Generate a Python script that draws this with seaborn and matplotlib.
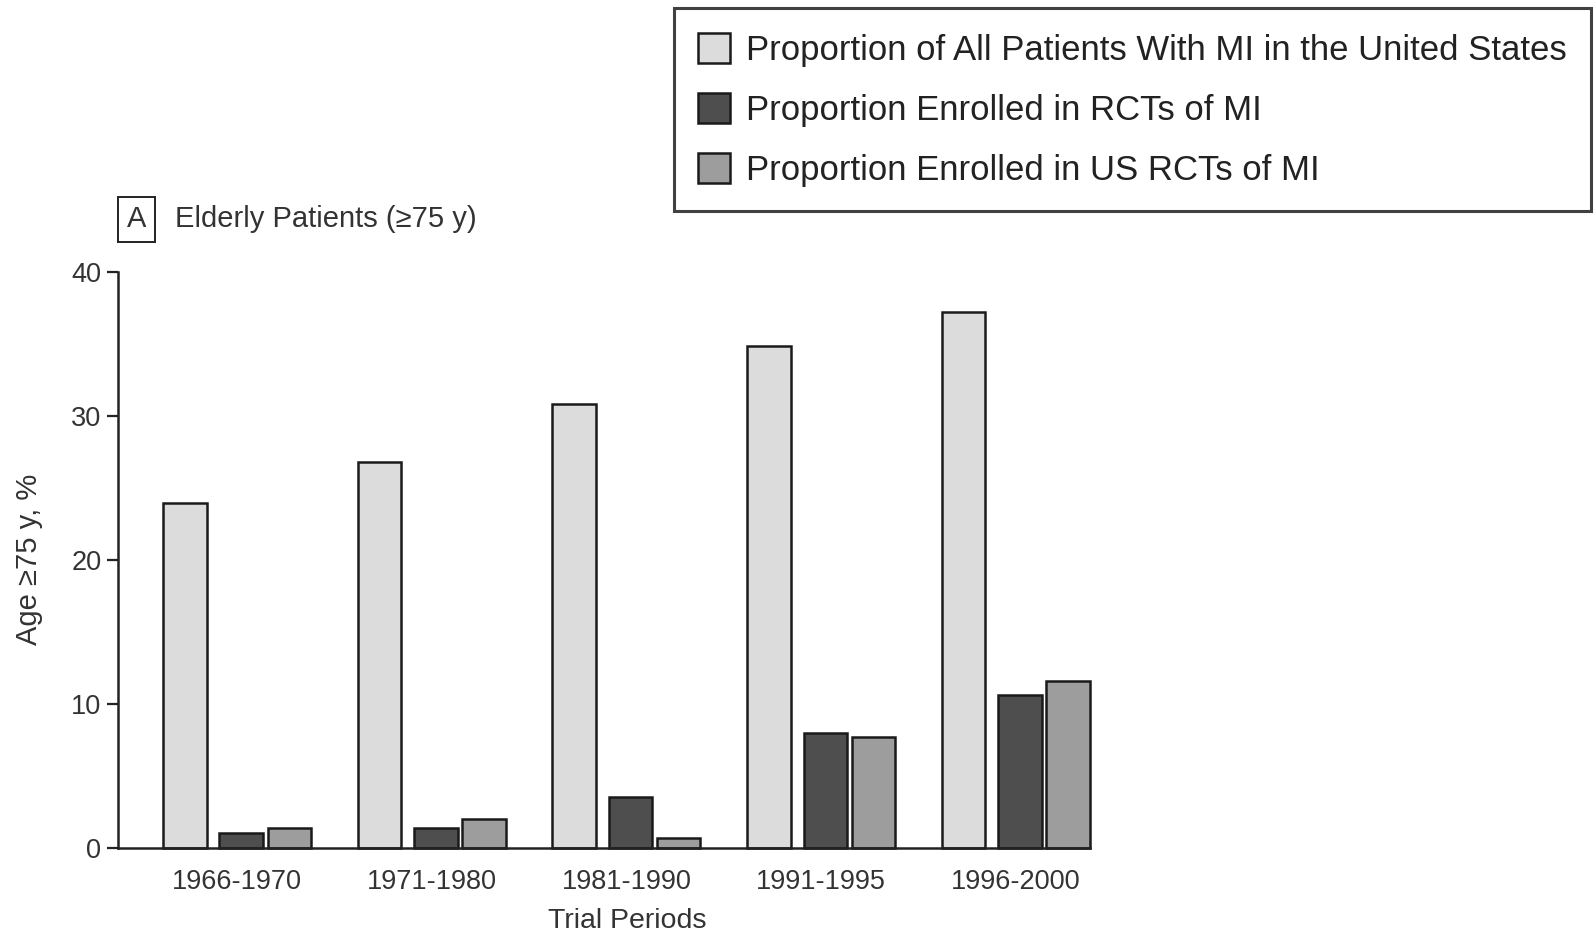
import matplotlib
matplotlib.use("Agg")
import matplotlib.pyplot as plt
from matplotlib.patches import Patch
import seaborn as sns
import pandas as pd

periods = ["1966-1970", "1971-1980", "1981-1990", "1991-1995", "1996-2000"]
series_names = [
    "Proportion of All Patients With MI in the United States",
    "Proportion Enrolled in RCTs of MI",
    "Proportion Enrolled in US RCTs of MI",
]
all_us_mi = [23.9, 26.8, 30.8, 34.8, 37.2]
rct_mi = [1.0, 1.4, 3.5, 8.0, 10.6]
us_rct_mi = [1.4, 2.0, 0.7, 7.7, 11.6]
yticks = [0, 10, 20, 30, 40]
colors = ["#dcdcdc", "#4e4e4e", "#9d9d9d"]

df = pd.DataFrame({
    "period": periods * 3,
    "series": [series_names[0]] * 5 + [series_names[1]] * 5 + [series_names[2]] * 5,
    "value": all_us_mi + rct_mi + us_rct_mi,
})

sns.set_theme(style="white")
plt.rcParams["font.family"] = ["Liberation Sans", "DejaVu Sans"]

fig = plt.figure(figsize=(15.94, 9.33), dpi=100)
ax = fig.add_axes([0.074, 0.0913, 0.6097, 0.6177])

sns.barplot(data=df, x="period", y="value", hue="series", hue_order=series_names,
            palette=colors, width=0.67, saturation=1, edgecolor="#1a1a1a",
            linewidth=1.8, legend=False, ax=ax)

# open up the gap between the national bar and the two trial bars
shifts = [-0.045, 0.021, 0.045]
bars = [p for p in ax.patches if p.get_height() > 0]
for i, p in enumerate(bars):
    p.set_x(p.get_x() + shifts[i // 5])
    p.set_clip_on(False)

ax.set_xlim(-0.612, 4.38)
ax.set_ylim(0, 40)
ax.set_yticks(yticks)
ax.set_yticklabels([str(t) for t in yticks])
for side in ["top", "right"]:
    ax.spines[side].set_visible(False)
for side in ["left", "bottom"]:
    ax.spines[side].set_color("#222222")
    ax.spines[side].set_linewidth(1.8)
ax.tick_params(axis="y", direction="out", length=8, width=1.6, color="#222222",
               labelsize=19.5, labelcolor="#333333", pad=4, left=True)
ax.tick_params(axis="x", length=0, labelsize=19.5, labelcolor="#333333", pad=15)
ax.set_xlabel("Trial Periods", fontsize=20.5, color="#333333")
ax.xaxis.set_label_coords(0.524, -0.104)
ax.set_ylabel("Age ≥75 y, %", fontsize=21, color="#333333", labelpad=20)

# panel tag
fig.text(0.0855, 0.765, "A", fontsize=21, color="#333333", ha="center", va="center",
         bbox=dict(boxstyle="square,pad=0.3", facecolor="white", edgecolor="#222222",
                   linewidth=1.4))
fig.text(0.1095, 0.765, "Elderly Patients (≥75 y)", fontsize=21, color="#333333",
         ha="left", va="center")

handles = [Patch(facecolor=c, edgecolor="#1a1a1a", linewidth=1.8) for c in colors]
leg = fig.legend(handles, series_names, loc="upper right",
                 bbox_to_anchor=(0.998, 0.991), fontsize=25, frameon=True,
                 fancybox=False, edgecolor="#111111", handlelength=0.92,
                 handleheight=0.95, handletextpad=0.45, labelspacing=0.75,
                 borderpad=0.7, borderaxespad=0)
leg.get_frame().set_linewidth(2.2)
for t in leg.get_texts():
    t.set_color("#222222")

fig.savefig("out.png", dpi=100)
